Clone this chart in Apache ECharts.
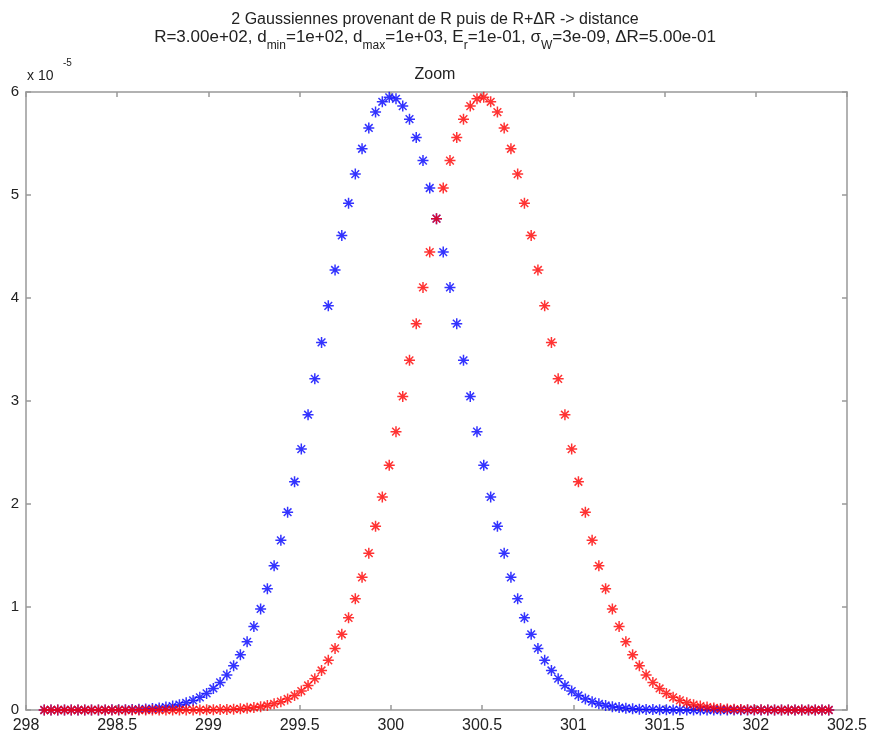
<!DOCTYPE html>
<html>
<head>
<meta charset="utf-8">
<script src="https://cdn.jsdelivr.net/npm/echarts@6/dist/echarts.min.js"></script>
<style>
  html, body { margin: 0; padding: 0; background: #fff; }
  #echart { width: 870px; height: 741px; }
</style>
</head>
<body>
<div id="echart"></div>
<script>
// distance grid (same for both curves)
var distance = [
  298.100, 298.137, 298.174, 298.211, 298.248, 298.285, 298.322, 298.359, 298.397, 298.434,
  298.471, 298.508, 298.545, 298.582, 298.619, 298.656, 298.693, 298.730, 298.767, 298.804,
  298.841, 298.878, 298.916, 298.953, 298.990, 299.027, 299.064, 299.101, 299.138, 299.175,
  299.212, 299.249, 299.286, 299.323, 299.360, 299.397, 299.434, 299.472, 299.509, 299.546,
  299.583, 299.620, 299.657, 299.694, 299.731, 299.768, 299.805, 299.842, 299.879, 299.916,
  299.953, 299.991, 300.028, 300.065, 300.102, 300.139, 300.176, 300.213, 300.250, 300.287,
  300.324, 300.361, 300.398, 300.435, 300.472, 300.509, 300.547, 300.584, 300.621, 300.658,
  300.695, 300.732, 300.769, 300.806, 300.843, 300.880, 300.917, 300.954, 300.991, 301.028,
  301.066, 301.103, 301.140, 301.177, 301.214, 301.251, 301.288, 301.325, 301.362, 301.399,
  301.436, 301.473, 301.510, 301.547, 301.584, 301.622, 301.659, 301.696, 301.733, 301.770,
  301.807, 301.844, 301.881, 301.918, 301.955, 301.992, 302.029, 302.066, 302.103, 302.141,
  302.178, 302.215, 302.252, 302.289, 302.326, 302.363, 302.400
];

// gaussian from R (values in units of 1e-5)
var gaussR = [
  0.000, 0.000, 0.000, 0.000, 0.000, 0.000, 0.000, 0.000, 0.001, 0.001,
  0.002, 0.002, 0.003, 0.005, 0.007, 0.010, 0.014, 0.020, 0.028, 0.038,
  0.052, 0.070, 0.093, 0.123, 0.161, 0.209, 0.268, 0.341, 0.430, 0.536,
  0.662, 0.810, 0.981, 1.178, 1.400, 1.647, 1.920, 2.216, 2.533, 2.867,
  3.215, 3.569, 3.924, 4.272, 4.607, 4.920, 5.203, 5.449, 5.651, 5.805,
  5.905, 5.948, 5.934, 5.863, 5.736, 5.558, 5.334, 5.068, 4.770, 4.446,
  4.103, 3.751, 3.395, 3.044, 2.702, 2.376, 2.069, 1.784, 1.523, 1.288,
  1.079, 0.895, 0.735, 0.598, 0.482, 0.384, 0.304, 0.238, 0.184, 0.141,
  0.107, 0.081, 0.060, 0.044, 0.032, 0.024, 0.017, 0.012, 0.008, 0.006,
  0.004, 0.003, 0.002, 0.001, 0.001, 0.001, 0.000, 0.000, 0.000, 0.000,
  0.000, 0.000, 0.000, 0.000, 0.000, 0.000, 0.000, 0.000, 0.000, 0.000,
  0.000, 0.000, 0.000, 0.000, 0.000, 0.000, 0.000
];

// gaussian from R+dR
var gaussRdR = [
  0.000, 0.000, 0.000, 0.000, 0.000, 0.000, 0.000, 0.000, 0.000, 0.000,
  0.000, 0.000, 0.000, 0.000, 0.000, 0.000, 0.000, 0.000, 0.000, 0.000,
  0.000, 0.001, 0.001, 0.001, 0.002, 0.003, 0.004, 0.006, 0.008, 0.012,
  0.017, 0.024, 0.032, 0.044, 0.060, 0.081, 0.107, 0.141, 0.184, 0.238,
  0.304, 0.384, 0.482, 0.598, 0.735, 0.895, 1.079, 1.288, 1.523, 1.784,
  2.069, 2.376, 2.702, 3.044, 3.395, 3.751, 4.103, 4.446, 4.770, 5.068,
  5.334, 5.558, 5.736, 5.863, 5.934, 5.948, 5.905, 5.805, 5.651, 5.449,
  5.203, 4.920, 4.607, 4.272, 3.924, 3.569, 3.215, 2.867, 2.533, 2.216,
  1.920, 1.647, 1.400, 1.178, 0.981, 0.810, 0.662, 0.536, 0.430, 0.341,
  0.268, 0.209, 0.161, 0.123, 0.093, 0.070, 0.052, 0.038, 0.028, 0.020,
  0.014, 0.010, 0.007, 0.005, 0.003, 0.002, 0.002, 0.001, 0.001, 0.000,
  0.000, 0.000, 0.000, 0.000, 0.000, 0.000, 0.000
];

var xTicks = [298, 298.5, 299, 299.5, 300, 300.5, 301, 301.5, 302, 302.5];
var yTicks = [0, 1, 2, 3, 4, 5, 6];

var chartDom = document.getElementById('echart');
var myChart = echarts.init(chartDom);

var fontName = 'Liberation Sans';
var axisGrey = '#999';
// matlab style '*' marker
var star = 'path://M10,0L10,20M0,10L20,10M3,3L17,17M3,17L17,3';

function pairs(xs, ys) {
    return xs.map(function (x, i) { return [x, ys[i]]; });
}

function boxAxis(isX, pos, showLabel) {
    var ax = {
        type: 'value',
        position: pos,
        min: isX ? xTicks[0] : yTicks[0],
        max: isX ? xTicks[xTicks.length - 1] : yTicks[yTicks.length - 1],
        interval: isX ? 0.5 : 1,
        splitLine: { show: false },
        axisLine: { show: true, onZero: false, lineStyle: { color: axisGrey, width: 1.5 } },
        axisTick: { show: true, inside: true, length: 5, lineStyle: { color: axisGrey, width: 1.5 } },
        axisLabel: {
            show: showLabel,
            color: '#222',
            fontFamily: fontName,
            fontSize: isX ? 16 : 15,
            margin: isX ? 8 : 7
        }
    };
    return ax;
}

var option = {
    backgroundColor: '#fff',
    animation: false,
    title: [
        {
            text: '2 Gaussiennes provenant de R puis de R+ΔR -> distance',
            left: 'center',
            top: 7,
            textStyle: { fontFamily: fontName, fontWeight: 'normal', fontSize: 16, color: '#222' }
        },
        {
            text: 'R=3.00e+02, d{sub|min}=1e+02, d{sub|max}=1e+03, E{sub|r}=1e-01, σ{sub|W}=3e-09, ΔR=5.00e-01',
            left: 'center',
            top: 18,
            textStyle: {
                fontFamily: fontName, fontWeight: 'normal', fontSize: 17, color: '#222', lineHeight: 29,
                rich: {
                    sub: { fontFamily: fontName, fontSize: 12, color: '#222', verticalAlign: 'bottom', lineHeight: 29 }
                }
            }
        },
        {
            text: 'Zoom',
            left: 'center',
            top: 62,
            textStyle: { fontFamily: fontName, fontWeight: 'normal', fontSize: 16, color: '#222' }
        }
    ],
    graphic: [
        { type: 'text', left: 27, top: 69, style: { text: 'x 10', font: '14px Liberation Sans', fill: '#222' } },
        { type: 'text', left: 63, top: 58, style: { text: '-5', font: '10px Liberation Sans', fill: '#222' } }
    ],
    grid: { left: 26, right: 22, top: 92, bottom: 31, containLabel: false },
    xAxis: [boxAxis(true, 'bottom', true), boxAxis(true, 'top', false)],
    yAxis: [boxAxis(false, 'left', true), boxAxis(false, 'right', false)],
    series: [
        {
            name: 'R',
            type: 'scatter',
            symbol: star,
            symbolSize: 11,
            itemStyle: { color: 'none', borderColor: '#0000ff', borderWidth: 1.5 },
            data: pairs(distance, gaussR)
        },
        {
            name: 'R+dR',
            type: 'scatter',
            symbol: star,
            symbolSize: 11,
            itemStyle: { color: 'none', borderColor: '#ff0000', borderWidth: 1.5 },
            data: pairs(distance, gaussRdR)
        }
    ]
};

myChart.setOption(option);

window.addEventListener('resize', function () {
    myChart.resize();
});
</script>
</body>
</html>
